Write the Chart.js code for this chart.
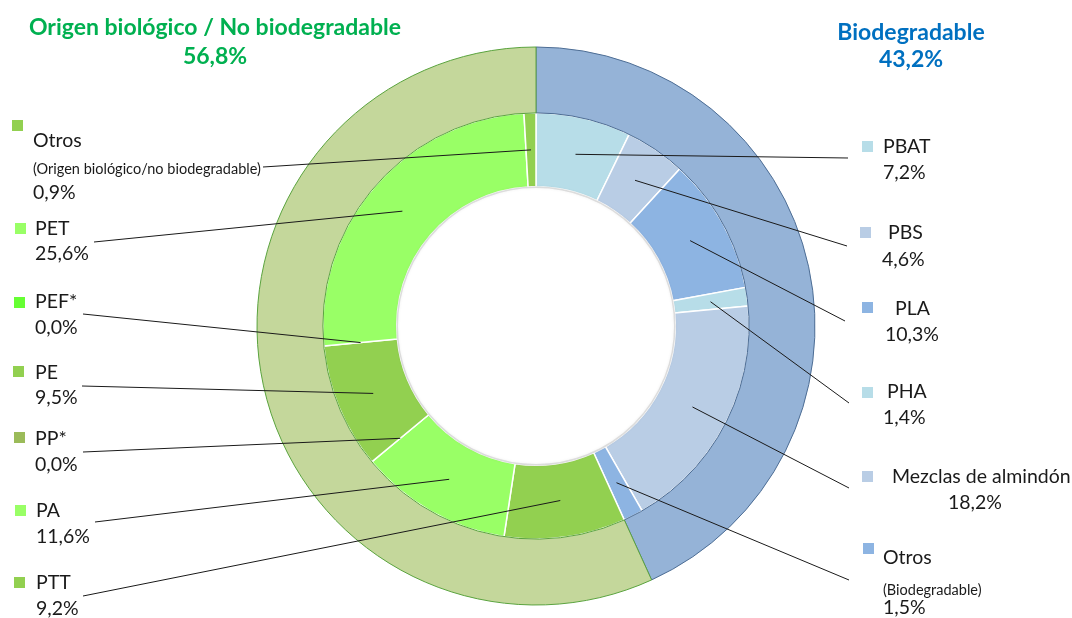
<!DOCTYPE html>
<html>
<head>
<meta charset="utf-8">
<script src="https://cdn.jsdelivr.net/npm/chart.js@4/dist/chart.umd.min.js"></script>
<style>
  html, body { margin: 0; padding: 0; background: #ffffff; }
  #wrap { position: relative; width: 1072px; height: 618px; }
</style>
</head>
<body>
<div id="wrap"><canvas id="c" width="1072" height="618"></canvas></div>
<script>
// ---------- DATA ----------
const groupLabels = ['Biodegradable', 'Origen biológico / No biodegradable'];
const groupValues = [43.2, 56.8];

const categories = ['PBAT', 'PBS', 'PLA', 'PHA', 'Mezclas de almindón', 'Otros',
                    'PTT', 'PA', 'PP*', 'PE', 'PEF*', 'PET', 'Otros'];
const subLabels  = ['', '', '', '', '', '(Biodegradable)',
                    '', '', '', '', '', '', '(Origen biológico/no biodegradable)'];
const values     = [7.2, 4.6, 10.3, 1.4, 18.2, 1.5,
                    9.2, 11.6, 0.0, 9.5, 0.0, 25.6, 0.9];

// ---------- STYLES ----------
const groupColors = ['#95b3d7', '#c4d79b'];
const groupBorders = ['#4d6d94', '#5aa33e'];
const innerColors = ['#b7dde8', '#b9cde5', '#8db4e2', '#b7dde8', '#b9cde5', '#8db4e2',
                     '#92d050', '#99ff66', '#9bbb59', '#92d050', '#66ff33', '#99ff66', '#92d050'];
const titleColors = ['#0070c0', '#00b050'];
const FONT = 'Lato, "Open Sans", sans-serif';

// label layout (positions only)
const labelLayout = [
  { sq: [862,141], name: [883,147], value: [883,173], end: [848,158] },
  { sq: [860,227], name: [888,233], value: [882,260], end: [847,246] },
  { sq: [862,302], name: [895,309], value: [885,335], end: [845,321] },
  { sq: [862,387], name: [887,392], value: [883,418], end: [849,403] },
  { sq: [862,471], name: [892,477], value: [948,503], end: [849,488] },
  { sq: [863,543], name: [883,558], sub: [883,590], value: [883,608], end: [849,580] },
  { sq: [14,577], name: [36,583], value: [36,609], end: [83,596] },
  { sq: [15,505], name: [36,511], value: [36,537], end: [95,522] },
  { sq: [14,432], name: [35,439], value: [35,465], end: [83,452] },
  { sq: [13,366], name: [35,373], value: [35,398], end: [82,386] },
  { sq: [14,297], name: [35,302], value: [35,328], end: [83,314] },
  { sq: [15,223], name: [35,229], value: [35,254], end: [94,242] },
  { sq: [12,120], name: [33,141], sub: [33,169], value: [33,193], end: [263,167] }
];
const titleLayout = [
  { x: 911, y1: 33, y2: 60 },
  { x: 215, y1: 28, y2: 57 }
];

const fmt = v => v.toFixed(1).replace('.', ',') + '%';

const overlayPlugin = {
  id: 'overlay',
  afterDatasetsDraw(chart) {
    const ctx = chart.ctx;
    const innerMeta = chart.getDatasetMeta(1);
    const arcs = innerMeta.data;
    // soft shadow at hole edge
    const a0 = arcs[0];
    ctx.save();
    ctx.beginPath();
    ctx.arc(a0.x, a0.y, a0.innerRadius - 0.5, 0, Math.PI * 2);
    ctx.strokeStyle = 'rgba(170,170,170,0.35)';
    ctx.lineWidth = 1.5;
    ctx.shadowColor = 'rgba(0,0,0,0.2)';
    ctx.shadowBlur = 3;
    ctx.stroke();
    ctx.restore();

    // leader lines
    ctx.save();
    ctx.strokeStyle = '#1a1a1a';
    ctx.lineWidth = 1;
    arcs.forEach((arc, i) => {
      const p = arc.tooltipPosition();
      const L = labelLayout[i];
      ctx.beginPath();
      ctx.moveTo(p.x, p.y);
      ctx.lineTo(L.end[0], L.end[1]);
      ctx.stroke();
    });
    ctx.restore();

    // labels
    ctx.save();
    ctx.textBaseline = 'middle';
    ctx.textAlign = 'left';
    categories.forEach((name, i) => {
      const L = labelLayout[i];
      ctx.fillStyle = innerColors[i];
      ctx.fillRect(L.sq[0], L.sq[1], 11, 11);
      ctx.fillStyle = '#1a1a1a';
      ctx.font = '19.5px ' + FONT;
      ctx.fillText(name, L.name[0], L.name[1]);
      ctx.fillText(fmt(values[i]), L.value[0], L.value[1]);
      if (L.sub && subLabels[i]) {
        ctx.font = '14.5px ' + FONT;
        ctx.fillText(subLabels[i], L.sub[0], L.sub[1]);
      }
    });
    // titles
    ctx.textAlign = 'center';
    groupLabels.forEach((g, i) => {
      const T = titleLayout[i];
      ctx.fillStyle = titleColors[i];
      ctx.font = 'bold 23px ' + FONT;
      ctx.fillText(g, T.x, T.y1);
      ctx.fillText(fmt(groupValues[i]), T.x, T.y2);
    });
    ctx.restore();
  }
};

new Chart(document.getElementById('c'), {
  type: 'doughnut',
  data: {
    labels: categories,
    datasets: [
      {
        label: 'Grupo',
        data: groupValues,
        backgroundColor: groupColors,
        borderColor: groupBorders,
        borderWidth: 1,
        weight: 66
      },
      {
        label: 'Material',
        data: values,
        backgroundColor: innerColors,
        borderColor: '#ffffff',
        borderWidth: 1.5,
        weight: 74
      }
    ]
  },
  options: {
    responsive: false,
    animation: false,
    radius: 279,
    cutout: 139,
    layout: { padding: { top: 47, bottom: 13, left: 0, right: 0 } },
    plugins: {
      legend: { display: false },
      tooltip: { enabled: false },
      title: { display: false }
    },
    events: []
  },
  plugins: [overlayPlugin]
});
</script>
</body>
</html>
